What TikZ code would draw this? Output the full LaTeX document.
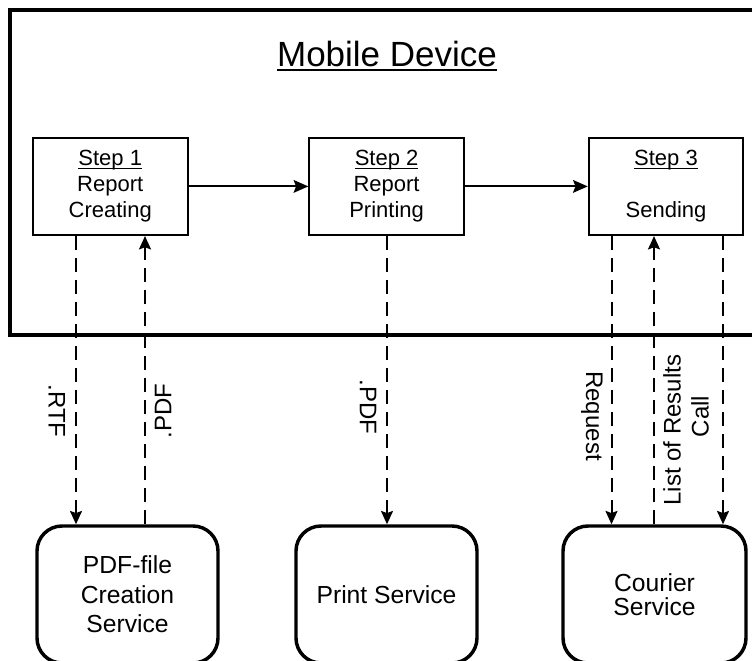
\documentclass[tikz,border=0pt]{standalone}
\usepackage{fontspec}
\setmainfont{Liberation Sans}
\usetikzlibrary{arrows.meta}
% underline at a fixed depth below the baseline: #1 depth, #2 thickness, #3 text
\newcommand{\ulin}[3]{\leavevmode\setbox0\hbox{#3}\rlap{\rule[-#1]{\wd0}{#2}}\box0}

\begin{document}
\begin{tikzpicture}[x=0.75pt,y=-0.75pt,
  frame/.style={draw, line width=3pt, minimum width=570pt, minimum height=243.75pt, inner sep=0pt},
  stepbox/.style={draw, line width=1.5pt, minimum width=115.9pt, minimum height=73pt,
    inner sep=0pt, align=center, font=\fontsize{16.5pt}{19.5pt}\selectfont},
  svcbox/.style={draw, line width=2.6pt, rounded corners=18.75pt, minimum width=135.75pt,
    minimum height=102.75pt, inner sep=0pt, align=center},
  flow/.style={line width=1.5pt, -{Stealth[length=11pt,width=9.5pt,inset=1.8pt]}},
  msg/.style={line width=1.5pt, dash pattern=on 10.5pt off 6pt,
    -{Stealth[length=10pt,width=9pt,inset=1.6pt]}},
  lbl/.style={inner sep=0pt, font=\fontsize{18pt}{21pt}\selectfont}]
\useasboundingbox (0,0) rectangle (752,660);
\clip (0,0) rectangle (752,660);

% mobile device frame and title
\node[frame] (device) at (390,172.5) {};
\node[anchor=base, inner sep=0pt, font=\fontsize{26.25pt}{30pt}\selectfont] (title) at (387,67)
  {\ulin{3.2pt}{1.5pt}{Mobile Device}};

% process steps
\node[stepbox] (step1) at (110.25,186.4) {\ulin{2.6pt}{1.1pt}{Step 1}\\Report\\Creating};
\node[stepbox] (step2) at (386.6,186.4) {\ulin{2.6pt}{1.1pt}{Step 2}\\Report\\Printing};
\node[stepbox] (step3) at (666,186.4) {\ulin{2.6pt}{1.1pt}{Step 3}\\[19.5pt]Sending};

\draw[flow] (step1) -- (step2);
\draw[flow] (step2) -- (step3);

% external services
\node[svcbox, font=\fontsize{18.5pt}{22pt}\selectfont] (svc1) at (127.5,594.5) {PDF-file\\Creation\\Service};
\node[svcbox, font=\fontsize{18.5pt}{22pt}\selectfont] (svc2) at (386.5,594.5) {Print Service};
\node[svcbox, minimum width=137.25pt, font=\fontsize{18.5pt}{18.4pt}\selectfont] (svc3) at (654.5,594.5) {Courier\\Service};

% x positions of the message lines
\coordinate (m1) at (76,0);
\coordinate (m2) at (145,0);
\coordinate (m3) at (387,0);
\coordinate (m4) at (611.5,0);
\coordinate (m5) at (654,0);
\coordinate (m6) at (723,0);

\draw[msg] (step1.south -| m1) -- (svc1.north -| m1);
\draw[msg] (svc1.north -| m2) -- (step1.south -| m2);
\draw[msg] (step2.south -| m3) -- (svc2.north -| m3);
\draw[msg] (step3.south -| m4) -- (svc3.north -| m4);
\draw[msg] (svc3.north -| m5) -- (step3.south -| m5);
\draw[msg] (step3.south -| m6) -- (svc3.north -| m6);

% message labels
\node[lbl, rotate=-90] (l1) at (57,411) {.RTF};
\node[lbl, rotate=90] (l2) at (163,411) {.PDF};
\node[lbl, rotate=-90] (l3) at (368,407) {.PDF};
\node[lbl, rotate=-90] (l4) at (592,416) {Request};
\node[lbl, rotate=90] (l5) at (672,430) {List of Results};
\node[lbl, rotate=90] (l6) at (700,416.5) {Call};
\end{tikzpicture}
\end{document}
